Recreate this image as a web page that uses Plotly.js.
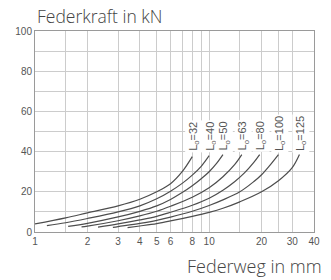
<!DOCTYPE html>
<html>
<head>
<meta charset="utf-8">
<script src="https://cdn.plot.ly/plotly-3.0.1.min.js"></script>
<style>html,body{margin:0;padding:0;background:#fff;}#chart{width:331px;height:280px;}</style>
</head>
<body>
<div id="chart"></div>
<script>
// Spring curves (x = Federweg in mm, y = Federkraft in kN)
const curveLabels = ['L<sub>o</sub>=32','L<sub>o</sub>=40','L<sub>o</sub>=50','L<sub>o</sub>=63','L<sub>o</sub>=80','L<sub>o</sub>=100','L<sub>o</sub>=125'];
const x32  = [1, 1.5, 2, 3, 4, 5, 6, 7, 8];
const y32  = [4, 7, 9.5, 13, 16.3, 20, 24, 30, 37.5];
const x40  = [1.17, 1.5, 2, 3, 4, 5, 6, 7, 8, 9, 10];
const y40  = [3.2, 4.6, 6.7, 10, 13, 16.5, 20.3, 24.2, 28.3, 32.7, 38];
const x50  = [1.55, 2, 3, 4, 5, 6, 7, 8, 9, 10, 11, 12];
const y50  = [2.8, 4.3, 7.5, 10.3, 13, 16.2, 19.6, 23, 26.5, 30, 34, 38.5];
const x63  = [1.85, 2, 3, 4, 5, 6, 8, 10, 12, 14, 15.4];
const y63  = [2.5, 2.9, 5.6, 8, 10.3, 12.8, 17.3, 22, 27.5, 33.5, 38.5];
const x80  = [2.3, 3, 4, 5, 6, 8, 10, 12, 14, 16, 18, 19.5];
const y80  = [2.4, 4, 6, 7.8, 9.8, 13.3, 16.8, 20.8, 25, 29.5, 34.5, 38.5];
const x100 = [2.8, 3, 4, 5, 6, 8, 10, 12, 15, 18, 20, 22, 25];
const y100 = [2.3, 2.7, 4.3, 5.8, 7.4, 10.3, 13.2, 16, 20, 25, 28.5, 32.5, 38.5];
const x125 = [3.4, 4, 5, 6, 8, 10, 12, 15, 20, 25, 30, 33];
const y125 = [2.2, 3, 4.2, 5.5, 7.8, 9.8, 11.8, 15, 20, 25.5, 32, 38.5];

const xTickVals = [1, 1.5, 2, 3, 4, 5, 6, 7, 8, 9, 10, 15, 20, 25, 30, 40];
const xTickText = ['1', '', '2', '3', '4', '5', '6', '', '8', '', '10', '', '20', '', '30', '40'];
const yTickVals = [0, 10, 20, 30, 40, 50, 60, 70, 80, 90, 100];
const yTickText = ['0', '', '20', '', '40', '', '60', '', '80', '', '100'];

const xTitle = 'Federweg in mm';
const yTitle = 'Federkraft in kN';

const xs = [x32, x40, x50, x63, x80, x100, x125];
const ys = [y32, y40, y50, y63, y80, y100, y125];

const traces = xs.map((x, i) => ({
  x: x, y: ys[i], type: 'scatter', mode: 'lines',
  line: {color: '#4d4d4d', width: 1.2, shape: 'spline', smoothing: 1},
  hoverinfo: 'skip', showlegend: false
}));

const labelAnnotations = xs.map((x, i) => ({
  xref: 'x', yref: 'y',
  x: Math.log10(x[x.length - 1]), y: 40,
  text: curveLabels[i], textangle: -90,
  xanchor: 'center', yanchor: 'bottom', xshift: 1.5, yshift: -1,
  showarrow: false, bgcolor: '#ffffff', borderpad: 1,
  font: {family: 'Liberation Sans, Arial, sans-serif', size: 11, color: '#555555'}
}));

const titleFont = {family: 'Open Sans, sans-serif', size: 17.5, color: '#444444', weight: 300};
const xTitleFont = {family: 'Open Sans, sans-serif', size: 18, color: '#444444', weight: 300};

const layout = {
  width: 331, height: 280,
  margin: {l: 35, r: 17, t: 31, b: 48},
  paper_bgcolor: '#ffffff', plot_bgcolor: '#ffffff',
  title: {text: yTitle, font: titleFont, x: 37 / 331, xanchor: 'left', xref: 'container', yref: 'container', y: 1 - 17 / 280, yanchor: 'middle'},
  xaxis: {
    type: 'log', range: [0, Math.log10(40)],
    tickmode: 'array', tickvals: xTickVals, ticktext: xTickText,
    showgrid: true, gridcolor: '#cccccc', gridwidth: 1,
    showline: true, linecolor: '#9a9a9a', linewidth: 1, mirror: true,
    ticks: '', zeroline: false,
    tickfont: {family: 'Liberation Sans, Arial, sans-serif', size: 10, color: '#555555'}
  },
  yaxis: {
    range: [0, 100],
    tickmode: 'array', tickvals: yTickVals, ticktext: yTickText,
    showgrid: true, gridcolor: '#cccccc', gridwidth: 1,
    showline: true, linecolor: '#9a9a9a', linewidth: 1, mirror: true,
    ticks: '', zeroline: false,
    tickfont: {family: 'Liberation Sans, Arial, sans-serif', size: 10, color: '#555555'}
  },
  annotations: labelAnnotations.concat([{
    xref: 'paper', yref: 'paper', x: 1, y: 0,
    xanchor: 'right', yanchor: 'middle', xshift: 10, yshift: -34,
    text: xTitle, showarrow: false, font: xTitleFont
  }])
};

Plotly.newPlot('chart', traces, layout, {displayModeBar: false, staticPlot: true});
</script>
</body>
</html>
